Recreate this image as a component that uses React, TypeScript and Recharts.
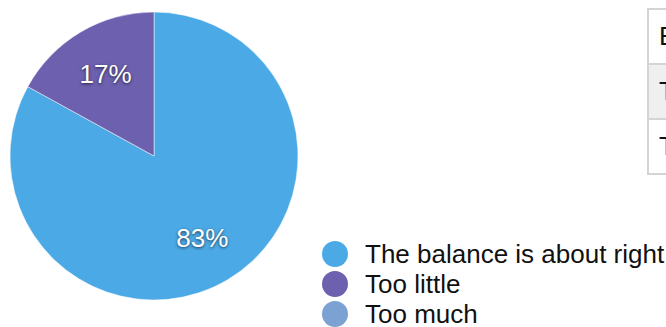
import { PieChart, Pie, Cell } from 'recharts';

const categories = ['The balance is about right', 'Too little', 'Too much'];
const shares = [83, 17, 0];
const colors = ['#4BA9E6', '#6C60AF', '#7BA2D3'];
const tableRows = ['Estimate', 'The balance is about right', 'Too little'];

const FONT = '"Liberation Sans", Arial, sans-serif';

const chartData = categories.map((name, i) => ({ name, value: shares[i] }));

const RADIAN = Math.PI / 180;

function renderLabel(props: any) {
  const { cx, cy, midAngle, outerRadius, value } = props;
  if (!value) return null;
  const r = outerRadius * 0.66;
  const x = cx + r * Math.cos(-midAngle * RADIAN);
  const y = cy + r * Math.sin(-midAngle * RADIAN);
  return (
    <text
      x={x}
      y={y}
      fill="#ffffff"
      textAnchor="middle"
      dominantBaseline="central"
      style={{ fontFamily: FONT, fontSize: 26, textShadow: '0 1px 3px rgba(0,0,0,0.65)' }}
    >
      {`${value}%`}
    </text>
  );
}

export default function App() {
  return (
    <div style={{ position: 'fixed', left: 0, top: 0, width: 666, height: 327, overflow: 'hidden', background: '#fff' }}>
      <PieChart width={666} height={327} margin={{ top: 0, right: 0, bottom: 0, left: 0 }}>
        <Pie
          data={chartData}
          dataKey="value"
          nameKey="name"
          cx={154}
          cy={156}
          outerRadius={144}
          startAngle={90}
          endAngle={-270}
          stroke="#ffffff"
          strokeWidth={0.5}
          label={renderLabel}
          labelLine={false}
          isAnimationActive={false}
        >
          {chartData.map((d, i) => (
            <Cell key={d.name} fill={colors[i]} />
          ))}
        </Pie>
      </PieChart>

      <div style={{ position: 'absolute', left: 322, top: 239, fontFamily: FONT }}>
        {categories.map((c, i) => (
          <div key={c} style={{ display: 'flex', alignItems: 'center', height: 30 }}>
            <span style={{ width: 26, height: 26, borderRadius: 13, background: colors[i], display: 'inline-block' }} />
            <span style={{ marginLeft: 17, fontSize: 26, color: '#111', whiteSpace: 'nowrap' }}>{c}</span>
          </div>
        ))}
      </div>

      <table
        style={{
          position: 'absolute',
          left: 647,
          top: 8,
          borderCollapse: 'collapse',
          fontFamily: FONT,
          fontSize: 26,
          color: '#111',
        }}
      >
        <tbody>
          {tableRows.map((t, i) => (
            <tr key={t} style={{ height: 55, background: i === 1 ? '#efefef' : '#fff' }}>
              <td style={{ border: '2px solid #d4d4d4', padding: '0 10px', whiteSpace: 'nowrap' }}>{t}</td>
            </tr>
          ))}
        </tbody>
      </table>
    </div>
  );
}
